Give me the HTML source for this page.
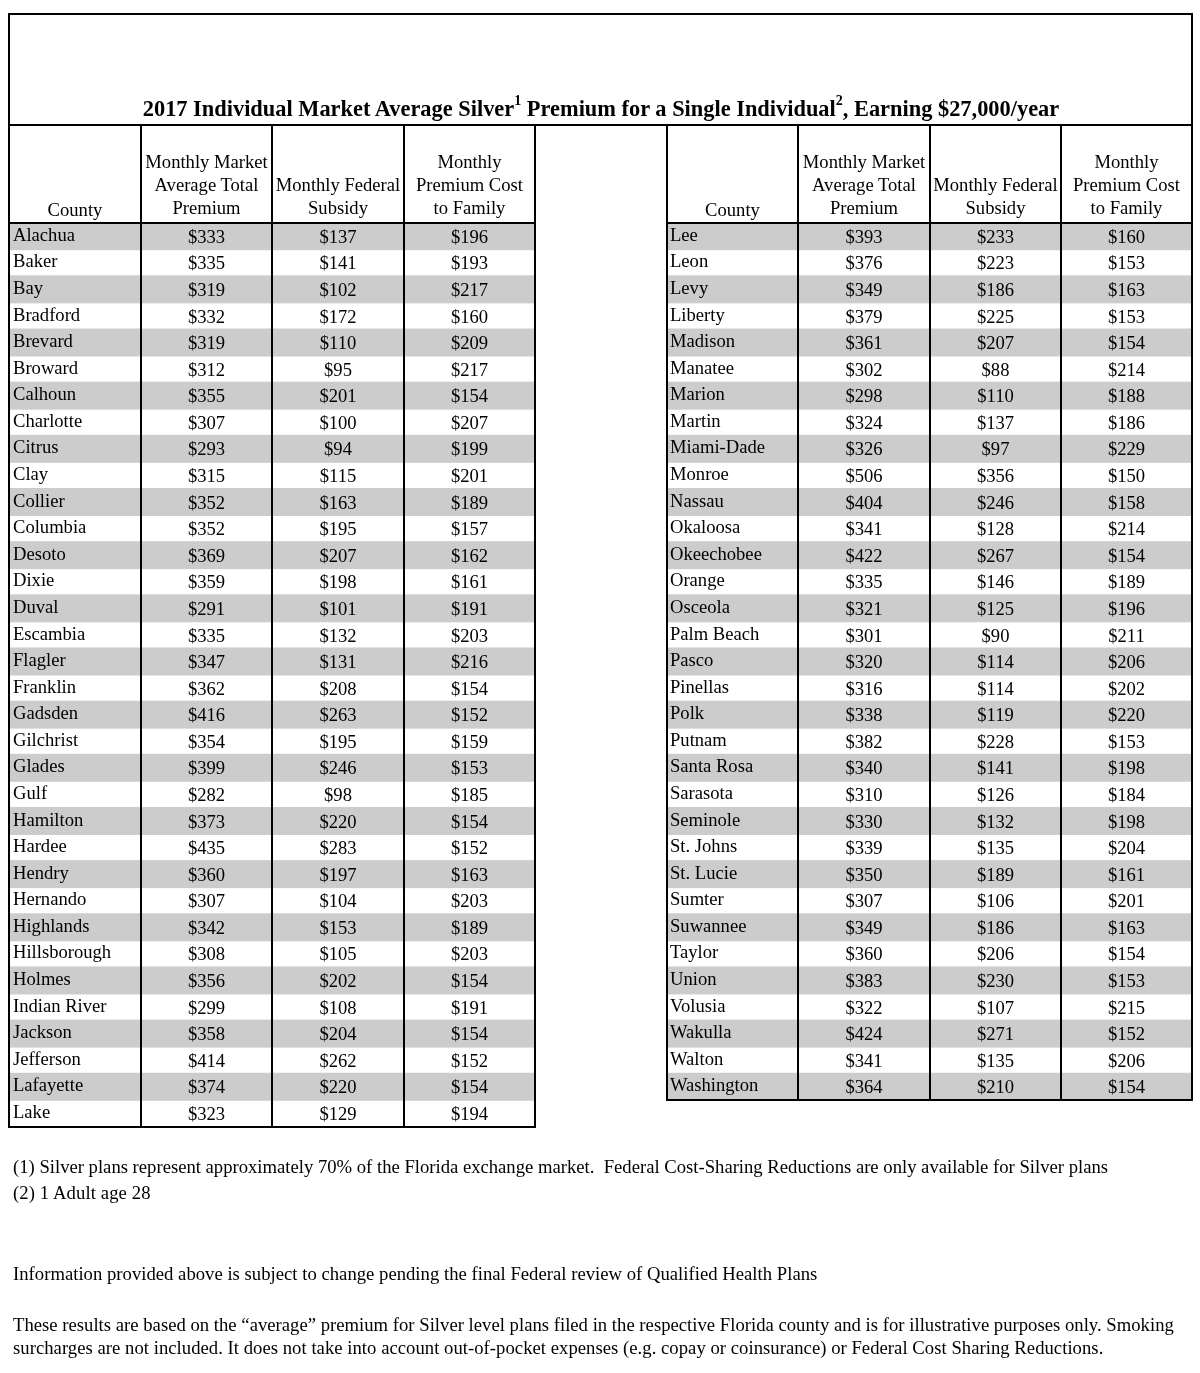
<!DOCTYPE html>
<html><head><meta charset="utf-8"><title>2017 Individual Market Average Silver Premium</title>
<style>
html,body{margin:0;padding:0;background:#fff;}
body{width:1200px;height:1373px;overflow:hidden;}
svg{display:block;will-change:transform;}
text{font-family:"Liberation Serif",serif;fill:#000;}
.t{font-size:18.6px;}
.f{font-size:18.66px;}
.title{font-size:22.4px;font-weight:bold;}
.sup{font-size:14px;}
</style></head>
<body>
<svg width="1200" height="1373" viewBox="0 0 1200 1373">
<rect x="0" y="0" width="1200" height="1373" fill="#fff"/>
<rect x="10.00" y="222.20" width="524.00" height="28.00" fill="#cccccc"/>
<rect x="10.00" y="275.36" width="524.00" height="28.00" fill="#cccccc"/>
<rect x="10.00" y="328.52" width="524.00" height="28.00" fill="#cccccc"/>
<rect x="10.00" y="381.68" width="524.00" height="28.00" fill="#cccccc"/>
<rect x="10.00" y="434.84" width="524.00" height="28.00" fill="#cccccc"/>
<rect x="10.00" y="488.00" width="524.00" height="28.00" fill="#cccccc"/>
<rect x="10.00" y="541.16" width="524.00" height="28.00" fill="#cccccc"/>
<rect x="10.00" y="594.32" width="524.00" height="28.00" fill="#cccccc"/>
<rect x="10.00" y="647.48" width="524.00" height="28.00" fill="#cccccc"/>
<rect x="10.00" y="700.64" width="524.00" height="28.00" fill="#cccccc"/>
<rect x="10.00" y="753.80" width="524.00" height="28.00" fill="#cccccc"/>
<rect x="10.00" y="806.96" width="524.00" height="28.00" fill="#cccccc"/>
<rect x="10.00" y="860.12" width="524.00" height="28.00" fill="#cccccc"/>
<rect x="10.00" y="913.28" width="524.00" height="28.00" fill="#cccccc"/>
<rect x="10.00" y="966.44" width="524.00" height="28.00" fill="#cccccc"/>
<rect x="10.00" y="1019.60" width="524.00" height="28.00" fill="#cccccc"/>
<rect x="10.00" y="1072.76" width="524.00" height="28.00" fill="#cccccc"/>
<text class="t" x="13.00" y="240.80" text-anchor="start">Alachua</text>
<text class="t" x="206.50" y="242.80" text-anchor="middle">$333</text>
<text class="t" x="338.00" y="242.80" text-anchor="middle">$137</text>
<text class="t" x="469.50" y="242.80" text-anchor="middle">$196</text>
<text class="t" x="13.00" y="267.38" text-anchor="start">Baker</text>
<text class="t" x="206.50" y="269.38" text-anchor="middle">$335</text>
<text class="t" x="338.00" y="269.38" text-anchor="middle">$141</text>
<text class="t" x="469.50" y="269.38" text-anchor="middle">$193</text>
<text class="t" x="13.00" y="293.96" text-anchor="start">Bay</text>
<text class="t" x="206.50" y="295.96" text-anchor="middle">$319</text>
<text class="t" x="338.00" y="295.96" text-anchor="middle">$102</text>
<text class="t" x="469.50" y="295.96" text-anchor="middle">$217</text>
<text class="t" x="13.00" y="320.54" text-anchor="start">Bradford</text>
<text class="t" x="206.50" y="322.54" text-anchor="middle">$332</text>
<text class="t" x="338.00" y="322.54" text-anchor="middle">$172</text>
<text class="t" x="469.50" y="322.54" text-anchor="middle">$160</text>
<text class="t" x="13.00" y="347.12" text-anchor="start">Brevard</text>
<text class="t" x="206.50" y="349.12" text-anchor="middle">$319</text>
<text class="t" x="338.00" y="349.12" text-anchor="middle">$110</text>
<text class="t" x="469.50" y="349.12" text-anchor="middle">$209</text>
<text class="t" x="13.00" y="373.70" text-anchor="start">Broward</text>
<text class="t" x="206.50" y="375.70" text-anchor="middle">$312</text>
<text class="t" x="338.00" y="375.70" text-anchor="middle">$95</text>
<text class="t" x="469.50" y="375.70" text-anchor="middle">$217</text>
<text class="t" x="13.00" y="400.28" text-anchor="start">Calhoun</text>
<text class="t" x="206.50" y="402.28" text-anchor="middle">$355</text>
<text class="t" x="338.00" y="402.28" text-anchor="middle">$201</text>
<text class="t" x="469.50" y="402.28" text-anchor="middle">$154</text>
<text class="t" x="13.00" y="426.86" text-anchor="start">Charlotte</text>
<text class="t" x="206.50" y="428.86" text-anchor="middle">$307</text>
<text class="t" x="338.00" y="428.86" text-anchor="middle">$100</text>
<text class="t" x="469.50" y="428.86" text-anchor="middle">$207</text>
<text class="t" x="13.00" y="453.44" text-anchor="start">Citrus</text>
<text class="t" x="206.50" y="455.44" text-anchor="middle">$293</text>
<text class="t" x="338.00" y="455.44" text-anchor="middle">$94</text>
<text class="t" x="469.50" y="455.44" text-anchor="middle">$199</text>
<text class="t" x="13.00" y="480.02" text-anchor="start">Clay</text>
<text class="t" x="206.50" y="482.02" text-anchor="middle">$315</text>
<text class="t" x="338.00" y="482.02" text-anchor="middle">$115</text>
<text class="t" x="469.50" y="482.02" text-anchor="middle">$201</text>
<text class="t" x="13.00" y="506.60" text-anchor="start">Collier</text>
<text class="t" x="206.50" y="508.60" text-anchor="middle">$352</text>
<text class="t" x="338.00" y="508.60" text-anchor="middle">$163</text>
<text class="t" x="469.50" y="508.60" text-anchor="middle">$189</text>
<text class="t" x="13.00" y="533.18" text-anchor="start">Columbia</text>
<text class="t" x="206.50" y="535.18" text-anchor="middle">$352</text>
<text class="t" x="338.00" y="535.18" text-anchor="middle">$195</text>
<text class="t" x="469.50" y="535.18" text-anchor="middle">$157</text>
<text class="t" x="13.00" y="559.76" text-anchor="start">Desoto</text>
<text class="t" x="206.50" y="561.76" text-anchor="middle">$369</text>
<text class="t" x="338.00" y="561.76" text-anchor="middle">$207</text>
<text class="t" x="469.50" y="561.76" text-anchor="middle">$162</text>
<text class="t" x="13.00" y="586.34" text-anchor="start">Dixie</text>
<text class="t" x="206.50" y="588.34" text-anchor="middle">$359</text>
<text class="t" x="338.00" y="588.34" text-anchor="middle">$198</text>
<text class="t" x="469.50" y="588.34" text-anchor="middle">$161</text>
<text class="t" x="13.00" y="612.92" text-anchor="start">Duval</text>
<text class="t" x="206.50" y="614.92" text-anchor="middle">$291</text>
<text class="t" x="338.00" y="614.92" text-anchor="middle">$101</text>
<text class="t" x="469.50" y="614.92" text-anchor="middle">$191</text>
<text class="t" x="13.00" y="639.50" text-anchor="start">Escambia</text>
<text class="t" x="206.50" y="641.50" text-anchor="middle">$335</text>
<text class="t" x="338.00" y="641.50" text-anchor="middle">$132</text>
<text class="t" x="469.50" y="641.50" text-anchor="middle">$203</text>
<text class="t" x="13.00" y="666.08" text-anchor="start">Flagler</text>
<text class="t" x="206.50" y="668.08" text-anchor="middle">$347</text>
<text class="t" x="338.00" y="668.08" text-anchor="middle">$131</text>
<text class="t" x="469.50" y="668.08" text-anchor="middle">$216</text>
<text class="t" x="13.00" y="692.66" text-anchor="start">Franklin</text>
<text class="t" x="206.50" y="694.66" text-anchor="middle">$362</text>
<text class="t" x="338.00" y="694.66" text-anchor="middle">$208</text>
<text class="t" x="469.50" y="694.66" text-anchor="middle">$154</text>
<text class="t" x="13.00" y="719.24" text-anchor="start">Gadsden</text>
<text class="t" x="206.50" y="721.24" text-anchor="middle">$416</text>
<text class="t" x="338.00" y="721.24" text-anchor="middle">$263</text>
<text class="t" x="469.50" y="721.24" text-anchor="middle">$152</text>
<text class="t" x="13.00" y="745.82" text-anchor="start">Gilchrist</text>
<text class="t" x="206.50" y="747.82" text-anchor="middle">$354</text>
<text class="t" x="338.00" y="747.82" text-anchor="middle">$195</text>
<text class="t" x="469.50" y="747.82" text-anchor="middle">$159</text>
<text class="t" x="13.00" y="772.40" text-anchor="start">Glades</text>
<text class="t" x="206.50" y="774.40" text-anchor="middle">$399</text>
<text class="t" x="338.00" y="774.40" text-anchor="middle">$246</text>
<text class="t" x="469.50" y="774.40" text-anchor="middle">$153</text>
<text class="t" x="13.00" y="798.98" text-anchor="start">Gulf</text>
<text class="t" x="206.50" y="800.98" text-anchor="middle">$282</text>
<text class="t" x="338.00" y="800.98" text-anchor="middle">$98</text>
<text class="t" x="469.50" y="800.98" text-anchor="middle">$185</text>
<text class="t" x="13.00" y="825.56" text-anchor="start">Hamilton</text>
<text class="t" x="206.50" y="827.56" text-anchor="middle">$373</text>
<text class="t" x="338.00" y="827.56" text-anchor="middle">$220</text>
<text class="t" x="469.50" y="827.56" text-anchor="middle">$154</text>
<text class="t" x="13.00" y="852.14" text-anchor="start">Hardee</text>
<text class="t" x="206.50" y="854.14" text-anchor="middle">$435</text>
<text class="t" x="338.00" y="854.14" text-anchor="middle">$283</text>
<text class="t" x="469.50" y="854.14" text-anchor="middle">$152</text>
<text class="t" x="13.00" y="878.72" text-anchor="start">Hendry</text>
<text class="t" x="206.50" y="880.72" text-anchor="middle">$360</text>
<text class="t" x="338.00" y="880.72" text-anchor="middle">$197</text>
<text class="t" x="469.50" y="880.72" text-anchor="middle">$163</text>
<text class="t" x="13.00" y="905.30" text-anchor="start">Hernando</text>
<text class="t" x="206.50" y="907.30" text-anchor="middle">$307</text>
<text class="t" x="338.00" y="907.30" text-anchor="middle">$104</text>
<text class="t" x="469.50" y="907.30" text-anchor="middle">$203</text>
<text class="t" x="13.00" y="931.88" text-anchor="start">Highlands</text>
<text class="t" x="206.50" y="933.88" text-anchor="middle">$342</text>
<text class="t" x="338.00" y="933.88" text-anchor="middle">$153</text>
<text class="t" x="469.50" y="933.88" text-anchor="middle">$189</text>
<text class="t" x="13.00" y="958.46" text-anchor="start">Hillsborough</text>
<text class="t" x="206.50" y="960.46" text-anchor="middle">$308</text>
<text class="t" x="338.00" y="960.46" text-anchor="middle">$105</text>
<text class="t" x="469.50" y="960.46" text-anchor="middle">$203</text>
<text class="t" x="13.00" y="985.04" text-anchor="start">Holmes</text>
<text class="t" x="206.50" y="987.04" text-anchor="middle">$356</text>
<text class="t" x="338.00" y="987.04" text-anchor="middle">$202</text>
<text class="t" x="469.50" y="987.04" text-anchor="middle">$154</text>
<text class="t" x="13.00" y="1011.62" text-anchor="start">Indian River</text>
<text class="t" x="206.50" y="1013.62" text-anchor="middle">$299</text>
<text class="t" x="338.00" y="1013.62" text-anchor="middle">$108</text>
<text class="t" x="469.50" y="1013.62" text-anchor="middle">$191</text>
<text class="t" x="13.00" y="1038.20" text-anchor="start">Jackson</text>
<text class="t" x="206.50" y="1040.20" text-anchor="middle">$358</text>
<text class="t" x="338.00" y="1040.20" text-anchor="middle">$204</text>
<text class="t" x="469.50" y="1040.20" text-anchor="middle">$154</text>
<text class="t" x="13.00" y="1064.78" text-anchor="start">Jefferson</text>
<text class="t" x="206.50" y="1066.78" text-anchor="middle">$414</text>
<text class="t" x="338.00" y="1066.78" text-anchor="middle">$262</text>
<text class="t" x="469.50" y="1066.78" text-anchor="middle">$152</text>
<text class="t" x="13.00" y="1091.36" text-anchor="start">Lafayette</text>
<text class="t" x="206.50" y="1093.36" text-anchor="middle">$374</text>
<text class="t" x="338.00" y="1093.36" text-anchor="middle">$220</text>
<text class="t" x="469.50" y="1093.36" text-anchor="middle">$154</text>
<text class="t" x="13.00" y="1117.94" text-anchor="start">Lake</text>
<text class="t" x="206.50" y="1119.94" text-anchor="middle">$323</text>
<text class="t" x="338.00" y="1119.94" text-anchor="middle">$129</text>
<text class="t" x="469.50" y="1119.94" text-anchor="middle">$194</text>
<text class="t" x="75.00" y="215.80" text-anchor="middle">County</text>
<text class="t" x="206.50" y="168.00" text-anchor="middle">Monthly Market</text>
<text class="t" x="206.50" y="190.60" text-anchor="middle">Average Total</text>
<text class="t" x="206.50" y="213.80" text-anchor="middle">Premium</text>
<text class="t" x="338.00" y="190.60" text-anchor="middle">Monthly Federal</text>
<text class="t" x="338.00" y="213.80" text-anchor="middle">Subsidy</text>
<text class="t" x="469.50" y="168.00" text-anchor="middle">Monthly</text>
<text class="t" x="469.50" y="190.60" text-anchor="middle">Premium Cost</text>
<text class="t" x="469.50" y="213.80" text-anchor="middle">to Family</text>
<rect x="8.00" y="125.00" width="2.00" height="1003.00" fill="#000"/>
<rect x="140.00" y="125.00" width="2.00" height="1003.00" fill="#000"/>
<rect x="271.00" y="125.00" width="2.00" height="1003.00" fill="#000"/>
<rect x="403.00" y="125.00" width="2.00" height="1003.00" fill="#000"/>
<rect x="534.00" y="125.00" width="2.00" height="1003.00" fill="#000"/>
<rect x="8.00" y="222.00" width="528.00" height="2.00" fill="#000"/>
<rect x="8.00" y="1126.00" width="528.00" height="2.00" fill="#000"/>
<rect x="668.00" y="222.20" width="523.00" height="28.00" fill="#cccccc"/>
<rect x="668.00" y="275.36" width="523.00" height="28.00" fill="#cccccc"/>
<rect x="668.00" y="328.52" width="523.00" height="28.00" fill="#cccccc"/>
<rect x="668.00" y="381.68" width="523.00" height="28.00" fill="#cccccc"/>
<rect x="668.00" y="434.84" width="523.00" height="28.00" fill="#cccccc"/>
<rect x="668.00" y="488.00" width="523.00" height="28.00" fill="#cccccc"/>
<rect x="668.00" y="541.16" width="523.00" height="28.00" fill="#cccccc"/>
<rect x="668.00" y="594.32" width="523.00" height="28.00" fill="#cccccc"/>
<rect x="668.00" y="647.48" width="523.00" height="28.00" fill="#cccccc"/>
<rect x="668.00" y="700.64" width="523.00" height="28.00" fill="#cccccc"/>
<rect x="668.00" y="753.80" width="523.00" height="28.00" fill="#cccccc"/>
<rect x="668.00" y="806.96" width="523.00" height="28.00" fill="#cccccc"/>
<rect x="668.00" y="860.12" width="523.00" height="28.00" fill="#cccccc"/>
<rect x="668.00" y="913.28" width="523.00" height="28.00" fill="#cccccc"/>
<rect x="668.00" y="966.44" width="523.00" height="28.00" fill="#cccccc"/>
<rect x="668.00" y="1019.60" width="523.00" height="28.00" fill="#cccccc"/>
<rect x="668.00" y="1072.76" width="523.00" height="26.24" fill="#cccccc"/>
<text class="t" x="670.00" y="240.80" text-anchor="start">Lee</text>
<text class="t" x="864.00" y="242.80" text-anchor="middle">$393</text>
<text class="t" x="995.50" y="242.80" text-anchor="middle">$233</text>
<text class="t" x="1126.50" y="242.80" text-anchor="middle">$160</text>
<text class="t" x="670.00" y="267.38" text-anchor="start">Leon</text>
<text class="t" x="864.00" y="269.38" text-anchor="middle">$376</text>
<text class="t" x="995.50" y="269.38" text-anchor="middle">$223</text>
<text class="t" x="1126.50" y="269.38" text-anchor="middle">$153</text>
<text class="t" x="670.00" y="293.96" text-anchor="start">Levy</text>
<text class="t" x="864.00" y="295.96" text-anchor="middle">$349</text>
<text class="t" x="995.50" y="295.96" text-anchor="middle">$186</text>
<text class="t" x="1126.50" y="295.96" text-anchor="middle">$163</text>
<text class="t" x="670.00" y="320.54" text-anchor="start">Liberty</text>
<text class="t" x="864.00" y="322.54" text-anchor="middle">$379</text>
<text class="t" x="995.50" y="322.54" text-anchor="middle">$225</text>
<text class="t" x="1126.50" y="322.54" text-anchor="middle">$153</text>
<text class="t" x="670.00" y="347.12" text-anchor="start">Madison</text>
<text class="t" x="864.00" y="349.12" text-anchor="middle">$361</text>
<text class="t" x="995.50" y="349.12" text-anchor="middle">$207</text>
<text class="t" x="1126.50" y="349.12" text-anchor="middle">$154</text>
<text class="t" x="670.00" y="373.70" text-anchor="start">Manatee</text>
<text class="t" x="864.00" y="375.70" text-anchor="middle">$302</text>
<text class="t" x="995.50" y="375.70" text-anchor="middle">$88</text>
<text class="t" x="1126.50" y="375.70" text-anchor="middle">$214</text>
<text class="t" x="670.00" y="400.28" text-anchor="start">Marion</text>
<text class="t" x="864.00" y="402.28" text-anchor="middle">$298</text>
<text class="t" x="995.50" y="402.28" text-anchor="middle">$110</text>
<text class="t" x="1126.50" y="402.28" text-anchor="middle">$188</text>
<text class="t" x="670.00" y="426.86" text-anchor="start">Martin</text>
<text class="t" x="864.00" y="428.86" text-anchor="middle">$324</text>
<text class="t" x="995.50" y="428.86" text-anchor="middle">$137</text>
<text class="t" x="1126.50" y="428.86" text-anchor="middle">$186</text>
<text class="t" x="670.00" y="453.44" text-anchor="start">Miami-Dade</text>
<text class="t" x="864.00" y="455.44" text-anchor="middle">$326</text>
<text class="t" x="995.50" y="455.44" text-anchor="middle">$97</text>
<text class="t" x="1126.50" y="455.44" text-anchor="middle">$229</text>
<text class="t" x="670.00" y="480.02" text-anchor="start">Monroe</text>
<text class="t" x="864.00" y="482.02" text-anchor="middle">$506</text>
<text class="t" x="995.50" y="482.02" text-anchor="middle">$356</text>
<text class="t" x="1126.50" y="482.02" text-anchor="middle">$150</text>
<text class="t" x="670.00" y="506.60" text-anchor="start">Nassau</text>
<text class="t" x="864.00" y="508.60" text-anchor="middle">$404</text>
<text class="t" x="995.50" y="508.60" text-anchor="middle">$246</text>
<text class="t" x="1126.50" y="508.60" text-anchor="middle">$158</text>
<text class="t" x="670.00" y="533.18" text-anchor="start">Okaloosa</text>
<text class="t" x="864.00" y="535.18" text-anchor="middle">$341</text>
<text class="t" x="995.50" y="535.18" text-anchor="middle">$128</text>
<text class="t" x="1126.50" y="535.18" text-anchor="middle">$214</text>
<text class="t" x="670.00" y="559.76" text-anchor="start">Okeechobee</text>
<text class="t" x="864.00" y="561.76" text-anchor="middle">$422</text>
<text class="t" x="995.50" y="561.76" text-anchor="middle">$267</text>
<text class="t" x="1126.50" y="561.76" text-anchor="middle">$154</text>
<text class="t" x="670.00" y="586.34" text-anchor="start">Orange</text>
<text class="t" x="864.00" y="588.34" text-anchor="middle">$335</text>
<text class="t" x="995.50" y="588.34" text-anchor="middle">$146</text>
<text class="t" x="1126.50" y="588.34" text-anchor="middle">$189</text>
<text class="t" x="670.00" y="612.92" text-anchor="start">Osceola</text>
<text class="t" x="864.00" y="614.92" text-anchor="middle">$321</text>
<text class="t" x="995.50" y="614.92" text-anchor="middle">$125</text>
<text class="t" x="1126.50" y="614.92" text-anchor="middle">$196</text>
<text class="t" x="670.00" y="639.50" text-anchor="start">Palm Beach</text>
<text class="t" x="864.00" y="641.50" text-anchor="middle">$301</text>
<text class="t" x="995.50" y="641.50" text-anchor="middle">$90</text>
<text class="t" x="1126.50" y="641.50" text-anchor="middle">$211</text>
<text class="t" x="670.00" y="666.08" text-anchor="start">Pasco</text>
<text class="t" x="864.00" y="668.08" text-anchor="middle">$320</text>
<text class="t" x="995.50" y="668.08" text-anchor="middle">$114</text>
<text class="t" x="1126.50" y="668.08" text-anchor="middle">$206</text>
<text class="t" x="670.00" y="692.66" text-anchor="start">Pinellas</text>
<text class="t" x="864.00" y="694.66" text-anchor="middle">$316</text>
<text class="t" x="995.50" y="694.66" text-anchor="middle">$114</text>
<text class="t" x="1126.50" y="694.66" text-anchor="middle">$202</text>
<text class="t" x="670.00" y="719.24" text-anchor="start">Polk</text>
<text class="t" x="864.00" y="721.24" text-anchor="middle">$338</text>
<text class="t" x="995.50" y="721.24" text-anchor="middle">$119</text>
<text class="t" x="1126.50" y="721.24" text-anchor="middle">$220</text>
<text class="t" x="670.00" y="745.82" text-anchor="start">Putnam</text>
<text class="t" x="864.00" y="747.82" text-anchor="middle">$382</text>
<text class="t" x="995.50" y="747.82" text-anchor="middle">$228</text>
<text class="t" x="1126.50" y="747.82" text-anchor="middle">$153</text>
<text class="t" x="670.00" y="772.40" text-anchor="start">Santa Rosa</text>
<text class="t" x="864.00" y="774.40" text-anchor="middle">$340</text>
<text class="t" x="995.50" y="774.40" text-anchor="middle">$141</text>
<text class="t" x="1126.50" y="774.40" text-anchor="middle">$198</text>
<text class="t" x="670.00" y="798.98" text-anchor="start">Sarasota</text>
<text class="t" x="864.00" y="800.98" text-anchor="middle">$310</text>
<text class="t" x="995.50" y="800.98" text-anchor="middle">$126</text>
<text class="t" x="1126.50" y="800.98" text-anchor="middle">$184</text>
<text class="t" x="670.00" y="825.56" text-anchor="start">Seminole</text>
<text class="t" x="864.00" y="827.56" text-anchor="middle">$330</text>
<text class="t" x="995.50" y="827.56" text-anchor="middle">$132</text>
<text class="t" x="1126.50" y="827.56" text-anchor="middle">$198</text>
<text class="t" x="670.00" y="852.14" text-anchor="start">St. Johns</text>
<text class="t" x="864.00" y="854.14" text-anchor="middle">$339</text>
<text class="t" x="995.50" y="854.14" text-anchor="middle">$135</text>
<text class="t" x="1126.50" y="854.14" text-anchor="middle">$204</text>
<text class="t" x="670.00" y="878.72" text-anchor="start">St. Lucie</text>
<text class="t" x="864.00" y="880.72" text-anchor="middle">$350</text>
<text class="t" x="995.50" y="880.72" text-anchor="middle">$189</text>
<text class="t" x="1126.50" y="880.72" text-anchor="middle">$161</text>
<text class="t" x="670.00" y="905.30" text-anchor="start">Sumter</text>
<text class="t" x="864.00" y="907.30" text-anchor="middle">$307</text>
<text class="t" x="995.50" y="907.30" text-anchor="middle">$106</text>
<text class="t" x="1126.50" y="907.30" text-anchor="middle">$201</text>
<text class="t" x="670.00" y="931.88" text-anchor="start">Suwannee</text>
<text class="t" x="864.00" y="933.88" text-anchor="middle">$349</text>
<text class="t" x="995.50" y="933.88" text-anchor="middle">$186</text>
<text class="t" x="1126.50" y="933.88" text-anchor="middle">$163</text>
<text class="t" x="670.00" y="958.46" text-anchor="start">Taylor</text>
<text class="t" x="864.00" y="960.46" text-anchor="middle">$360</text>
<text class="t" x="995.50" y="960.46" text-anchor="middle">$206</text>
<text class="t" x="1126.50" y="960.46" text-anchor="middle">$154</text>
<text class="t" x="670.00" y="985.04" text-anchor="start">Union</text>
<text class="t" x="864.00" y="987.04" text-anchor="middle">$383</text>
<text class="t" x="995.50" y="987.04" text-anchor="middle">$230</text>
<text class="t" x="1126.50" y="987.04" text-anchor="middle">$153</text>
<text class="t" x="670.00" y="1011.62" text-anchor="start">Volusia</text>
<text class="t" x="864.00" y="1013.62" text-anchor="middle">$322</text>
<text class="t" x="995.50" y="1013.62" text-anchor="middle">$107</text>
<text class="t" x="1126.50" y="1013.62" text-anchor="middle">$215</text>
<text class="t" x="670.00" y="1038.20" text-anchor="start">Wakulla</text>
<text class="t" x="864.00" y="1040.20" text-anchor="middle">$424</text>
<text class="t" x="995.50" y="1040.20" text-anchor="middle">$271</text>
<text class="t" x="1126.50" y="1040.20" text-anchor="middle">$152</text>
<text class="t" x="670.00" y="1064.78" text-anchor="start">Walton</text>
<text class="t" x="864.00" y="1066.78" text-anchor="middle">$341</text>
<text class="t" x="995.50" y="1066.78" text-anchor="middle">$135</text>
<text class="t" x="1126.50" y="1066.78" text-anchor="middle">$206</text>
<text class="t" x="670.00" y="1091.36" text-anchor="start">Washington</text>
<text class="t" x="864.00" y="1093.36" text-anchor="middle">$364</text>
<text class="t" x="995.50" y="1093.36" text-anchor="middle">$210</text>
<text class="t" x="1126.50" y="1093.36" text-anchor="middle">$154</text>
<text class="t" x="732.50" y="215.80" text-anchor="middle">County</text>
<text class="t" x="864.00" y="168.00" text-anchor="middle">Monthly Market</text>
<text class="t" x="864.00" y="190.60" text-anchor="middle">Average Total</text>
<text class="t" x="864.00" y="213.80" text-anchor="middle">Premium</text>
<text class="t" x="995.50" y="190.60" text-anchor="middle">Monthly Federal</text>
<text class="t" x="995.50" y="213.80" text-anchor="middle">Subsidy</text>
<text class="t" x="1126.50" y="168.00" text-anchor="middle">Monthly</text>
<text class="t" x="1126.50" y="190.60" text-anchor="middle">Premium Cost</text>
<text class="t" x="1126.50" y="213.80" text-anchor="middle">to Family</text>
<rect x="666.00" y="125.00" width="2.00" height="976.00" fill="#000"/>
<rect x="797.00" y="125.00" width="2.00" height="976.00" fill="#000"/>
<rect x="929.00" y="125.00" width="2.00" height="976.00" fill="#000"/>
<rect x="1060.00" y="125.00" width="2.00" height="976.00" fill="#000"/>
<rect x="1191.00" y="125.00" width="2.00" height="976.00" fill="#000"/>
<rect x="666.00" y="222.00" width="527.00" height="2.00" fill="#000"/>
<rect x="666.00" y="1099.00" width="527.00" height="2.00" fill="#000"/>
<rect x="8.00" y="13.00" width="1185.00" height="2.00" fill="#000"/>
<rect x="8.00" y="13.00" width="2.00" height="114.00" fill="#000"/>
<rect x="1191.00" y="13.00" width="2.00" height="114.00" fill="#000"/>
<rect x="8.00" y="124.00" width="1185.00" height="2.00" fill="#000"/>
<text class="title" x="601" y="116.3" text-anchor="middle">2017 Individual Market Average Silver<tspan class="sup" dy="-11.3">1</tspan><tspan dy="11.3"> Premium for a Single Individual</tspan><tspan class="sup" dy="-11.3">2</tspan><tspan dy="11.3">, Earning $27,000/year</tspan></text>
<text class="f" x="13.00" y="1173.20" text-anchor="start" textLength="1095" lengthAdjust="spacing">(1) Silver plans represent approximately 70% of the Florida exchange market.&#160; Federal Cost-Sharing Reductions are only available for Silver plans</text>
<text class="f" x="13.00" y="1199.20" text-anchor="start" textLength="137.5" lengthAdjust="spacing">(2) 1 Adult age 28</text>
<text class="f" x="13.00" y="1279.60" text-anchor="start" textLength="804.3" lengthAdjust="spacing">Information provided above is subject to change pending the final Federal review of Qualified Health Plans</text>
<text class="f" x="13.00" y="1331.00" text-anchor="start" textLength="1160.8" lengthAdjust="spacing">These results are based on the &#8220;average&#8221; premium for Silver level plans filed in the respective Florida county and is for illustrative purposes only. Smoking</text>
<text class="f" x="13.00" y="1354.30" text-anchor="start" textLength="1090.3" lengthAdjust="spacing">surcharges are not included. It does not take into account out-of-pocket expenses (e.g. copay or coinsurance) or Federal Cost Sharing Reductions.</text>
</svg>
</body></html>
